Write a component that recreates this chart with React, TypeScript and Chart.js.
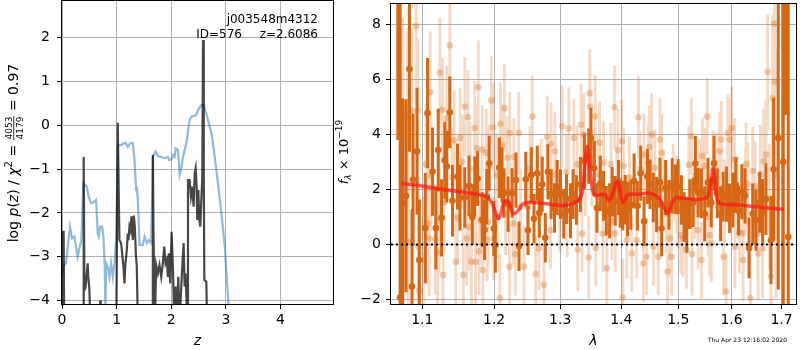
import React, { useEffect, useRef } from "react";
import { Chart, registerables } from "chart.js";

Chart.register(...registerables);

// ---------- left panel: log p(z) ----------
const BLUE_Z = [0, 0.043, 0.073, 0.147, 0.183, 0.226, 0.287, 0.318, 0.355, 0.391, 0.453, 0.489, 0.532, 0.593, 0.624, 0.654, 0.673, 0.697, 0.734, 0.758, 0.783, 0.795, 0.807, 0.838, 0.869, 0.899, 0.93, 0.96, 0.991, 1.021, 1.083, 1.125, 1.162, 1.205, 1.254, 1.297, 1.327, 1.358, 1.37, 1.388, 1.419, 1.48, 1.511, 1.554, 1.59, 1.633, 1.664, 1.712, 1.755, 1.817, 1.878, 1.939, 1.96, 2.0, 2.031, 2.061, 2.08, 2.122, 2.153, 2.183, 2.214, 2.275, 2.336, 2.367, 2.428, 2.457, 2.489, 2.55, 2.593, 2.642, 2.703, 2.735, 2.796, 2.857, 2.918, 2.98, 3.034, 3.046, 3.1];
const BLUE_LOGP = [-3.4, -3.19, -3.15, -2.31, -2.58, -2.54, -3.0, -2.81, -2.62, -1.32, -1.4, -1.63, -1.78, -1.74, -1.7, -2.47, -2.54, -2.31, -2.31, -2.54, -3.23, -4.3, -3.15, -3.23, -3.46, -3.15, -3.46, -3.15, -2.6, -0.45, -0.45, -0.41, -0.4, -0.49, -0.4, -0.41, -0.79, -1.48, -1.4, -1.7, -2.73, -2.73, -2.54, -2.69, -2.62, -2.69, -0.72, -0.6, -0.7, -0.72, -0.75, -0.72, -0.79, -0.78, -0.68, -0.72, -0.53, -0.56, -1.13, -0.98, -0.72, -0.41, 0.12, 0.2, 0.22, 0.24, 0.35, 0.46, 0.46, 0.27, -0.03, -0.18, -0.72, -1.35, -2.01, -2.77, -3.84, -4.08, -4.8];

const DARK_Z = [0, 0.005, 0.03, 0.04, 0.39, 0.397, 0.41, 0.43, 0.47, 0.48, 0.5, 0.52, 0.69, 0.7, 0.71, 0.995, 1.02, 1.051, 1.082, 1.1, 1.125, 1.143, 1.161, 1.186, 1.204, 1.217, 1.235, 1.253, 1.272, 1.296, 1.314, 1.333, 1.351, 1.369, 1.388, 1.655, 1.663, 1.675, 1.7, 1.724, 1.755, 1.785, 1.816, 1.846, 1.871, 1.896, 1.92, 1.938, 1.957, 1.981, 2.006, 2.03, 2.054, 2.079, 2.103, 2.128, 2.152, 2.183, 2.201, 2.226, 2.244, 2.262, 2.293, 2.306, 2.336, 2.36, 2.385, 2.409, 2.428, 2.446, 2.464, 2.476, 2.495, 2.513, 2.532, 2.55, 2.568, 2.581, 2.595, 2.605, 2.642, 2.654];
const DARK_LOGP = [-4.5, -2.43, -2.43, -4.5, -4.5, -0.72, -3.76, -3.72, -3.15, -3.45, -3.72, -4.5, -4.5, -4.0, -4.5, -4.5, 0.06, -2.62, -2.69, -2.92, -3.23, -3.61, -3.15, -2.85, -2.47, -2.62, -2.31, -2.39, -2.08, -2.62, -2.06, -2.31, -2.92, -3.23, -4.5, -4.5, -0.68, -2.5, -4.5, -3.19, -3.38, -3.19, -3.46, -3.15, -2.77, -3.15, -3.07, -3.46, -2.92, -3.61, -2.43, -3.23, -4.5, -3.68, -4.5, -3.46, -4.5, -3.68, -3.23, -2.69, -3.68, -3.38, -4.5, -1.25, -1.25, -1.63, -1.4, -1.86, -1.1, -0.98, -1.4, -2.16, -1.48, -2.16, -2.31, -1.7, -1.2, 1.95, -1.0, -3.53, -3.57, -4.5];

const Z_TICKS = [0, 1, 2, 3, 4];
const LOGP_TICKS = [-4, -3, -2, -1, 0, 1, 2];

// ---------- right panel: spectrum ----------
const DARK_LAM = [1.0678, 1.0708, 1.0742, 1.0785, 1.0829, 1.0863, 1.0877, 1.0929, 1.096, 1.1039, 1.107, 1.1137, 1.1182, 1.1214, 1.1259, 1.1304, 1.1331, 1.1372, 1.1409, 1.1478, 1.1514, 1.158, 1.164, 1.1687, 1.1722, 1.1762, 1.1827, 1.1862, 1.1893, 1.1928, 1.1995, 1.2017, 1.2075, 1.2115, 1.2142, 1.2205, 1.2263, 1.2322, 1.2367, 1.2469, 1.2503, 1.2553, 1.2594, 1.2644, 1.2675, 1.272, 1.2767, 1.2808, 1.2859, 1.2911, 1.2952, 1.3005, 1.3057, 1.31, 1.3163, 1.3205, 1.3258, 1.3323, 1.3387, 1.3457, 1.3494, 1.3549, 1.3592, 1.3648, 1.3702, 1.3747, 1.3802, 1.3846, 1.3896, 1.3952, 1.3981, 1.4025, 1.4066, 1.4105, 1.416, 1.4218, 1.4275, 1.4332, 1.4391, 1.4449, 1.4495, 1.4553, 1.4611, 1.4671, 1.47, 1.4771, 1.4831, 1.489, 1.4949, 1.4998, 1.5058, 1.5107, 1.5156, 1.5211, 1.5271, 1.5314, 1.5364, 1.5425, 1.5488, 1.555, 1.5612, 1.5663, 1.5726, 1.5789, 1.5839, 1.5904, 1.5962, 1.6026, 1.6084, 1.6136, 1.6201, 1.6265, 1.6343, 1.6416, 1.6481, 1.6555, 1.6614, 1.6681, 1.6782, 1.6837, 1.6932, 1.7035, 1.7087, 1.7138];
const DARK_FLUX = [10.0, -1.92, 1.5, 1.77, 6.37, -1.52, 2.35, 3.39, -0.56, 0.6, 4.77, 2.65, 0.6, 3.43, 0.97, 3.06, 2.83, 4.8, 1.59, 2.47, 1.71, 1.71, 2.13, 1.0, 2.1, 2.4, 0.9, 0.54, 1.74, 2.95, 0.58, -0.02, 2.79, 2.52, 1.87, 1.47, 1.87, 2.34, -0.06, 2.37, 0.52, 2.53, 0.94, 2.59, 1.15, 2.19, 0.25, 2.64, 1.83, 1.33, 2.07, 1.83, 1.12, 1.65, 1.23, 1.83, 1.62, 2.18, 3.03, 3.21, 3.87, 2.77, 1.33, 2.22, 1.77, 1.23, 1.23, 1.92, 1.59, 2.07, 1.51, 1.41, 1.63, 1.29, 1.44, 2.31, 1.41, 2.59, 0.85, 2.47, 2.19, 1.71, 1.45, 2.25, 0.58, 2.07, 1.44, 2.13, 2.01, 2.1, 1.62, 1.0, 0.7, 1.47, 1.53, 2.94, 1.89, 1.86, 1.12, 2.25, 1.53, 2.95, 1.86, 1.12, 1.74, 1.83, 1.32, 1.62, 2.16, 1.23, 1.92, 1.77, -0.12, 1.12, 0.88, 1.53, 1.18, 1.65, 0.16, 2.73, 3.87, 3.0, 12.0, 0.28];
const DARK_ERR = [6.2, 11, 3.8, 3.5, 3.0, 2.8, 2.4, 2.3, 2.2, 2.0, 2.0, 1.6, 1.5, 1.5, 1.4, 1.4, 1.3, 1.3, 1.3, 1.2, 1.2, 1.1, 1.1, 1.0, 1.1, 1.0, 1.0, 1.1, 1.0, 1.0, 1.0, 1.0, 1.1, 1.0, 0.9, 1.0, 0.9, 1.0, 0.9, 1.0, 0.9, 1.0, 0.9, 1.0, 0.9, 1.0, 0.9, 1.0, 0.9, 0.9, 1.0, 0.9, 0.9, 0.9, 1.0, 0.9, 0.9, 1.0, 1.0, 1.0, 1.1, 1.0, 0.9, 1.0, 0.9, 0.9, 1.0, 0.9, 0.9, 1.0, 0.9, 0.9, 0.9, 1.0, 0.9, 1.0, 0.9, 1.0, 0.9, 1.0, 0.9, 0.9, 1.0, 0.9, 1.0, 1.0, 0.9, 1.0, 0.9, 1.0, 0.9, 0.9, 1.0, 0.9, 0.9, 1.0, 0.9, 0.9, 1.0, 0.9, 0.9, 1.0, 0.9, 1.0, 0.9, 1.0, 0.9, 1.0, 1.0, 0.9, 1.0, 1.0, 1.1, 1.1, 1.1, 1.1, 1.2, 1.3, 1.6, 2.6, 5.5, 9.0, 7.3, 10.0];

const LIGHT_LAM = [1.0742, 1.0807, 1.0816, 1.0859, 1.0916, 1.0938, 1.0945, 1.096, 1.1017, 1.1048, 1.107, 1.1093, 1.1106, 1.1115, 1.1173, 1.1205, 1.1227, 1.1236, 1.1272, 1.128, 1.1295, 1.1331, 1.1372, 1.1409, 1.1432, 1.1455, 1.1478, 1.1514, 1.1547, 1.1561, 1.158, 1.1607, 1.1626, 1.164, 1.1654, 1.1673, 1.172, 1.1734, 1.1758, 1.1772, 1.1782, 1.1805, 1.1829, 1.1838, 1.1886, 1.19, 1.191, 1.1924, 1.1958, 1.1986, 1.1996, 1.2034, 1.2044, 1.2083, 1.2092, 1.2117, 1.2151, 1.2166, 1.219, 1.2224, 1.2229, 1.2279, 1.2289, 1.2313, 1.2363, 1.2388, 1.2443, 1.2493, 1.2533, 1.2568, 1.2619, 1.267, 1.2705, 1.2746, 1.2798, 1.2849, 1.2859, 1.2916, 1.2927, 1.2994, 1.3031, 1.3099, 1.311, 1.3136, 1.3216, 1.3269, 1.3279, 1.3333, 1.3349, 1.3376, 1.3403, 1.3457, 1.3473, 1.348, 1.3511, 1.3565, 1.3572, 1.362, 1.3636, 1.3691, 1.3702, 1.3757, 1.3824, 1.384, 1.3885, 1.3896, 1.3924, 1.3941, 1.4008, 1.4025, 1.4036, 1.4093, 1.4138, 1.4178, 1.4264, 1.4292, 1.4321, 1.4379, 1.439, 1.4436, 1.4466, 1.4483, 1.4524, 1.4553, 1.4582, 1.4641, 1.467, 1.468, 1.47, 1.4729, 1.4789, 1.4806, 1.4848, 1.4878, 1.4908, 1.4968, 1.4998, 1.5046, 1.5089, 1.5149, 1.5192, 1.5241, 1.5253, 1.5302, 1.5314, 1.5364, 1.5395, 1.5426, 1.5444, 1.5488, 1.5537, 1.555, 1.5581, 1.5613, 1.5644, 1.5707, 1.577, 1.5802, 1.5846, 1.5865, 1.5897, 1.5929, 1.5961, 1.6006, 1.6058, 1.6066, 1.6109, 1.6155, 1.622, 1.6228, 1.6272, 1.6285, 1.6318, 1.637, 1.6416, 1.6462, 1.6516, 1.6525, 1.6569, 1.6615, 1.6635, 1.6682, 1.6716, 1.6749, 1.6783, 1.6817, 1.6851, 1.6864, 1.6885];
const LIGHT_FLUX = [4.71, 4.65, 0.12, 4.86, 7.93, 4.86, -0.08, -1.67, -0.56, 2.91, 0.76, 0.22, 5.53, 2.49, 0.18, -0.29, 0.88, 6.24, 4.89, -1.1, 1.53, 4.59, 7.23, 2.43, 3.78, -0.62, 0.97, 3.87, 3.01, -1.1, 5.01, 0.22, 4.63, 0.64, 2.76, -0.62, 4.23, -0.62, 3.49, 5.71, -0.24, 0.88, 3.45, -0.92, 3.33, 0.18, 0.82, 2.85, 5.23, 4.26, 0.22, 2.52, 1.0, -1.94, 4.38, 3.61, 4.95, 1.12, 3.15, -0.8, 4.05, 0.76, 3.19, -0.35, 4.05, 1.35, -0.8, 1.35, 2.79, 4.65, -1.07, -0.14, 2.43, -1.46, 3.9, 0.52, 3.66, 3.39, 2.55, 1.12, 4.29, 2.61, 0.94, 4.21, 3.87, 2.91, -0.18, 4.35, 0.4, 3.99, 2.43, -0.47, 5.49, 5.01, 2.79, 4.65, -0.12, 2.55, 3.69, 0.4, 2.97, -0.86, 2.91, 0.85, 4.98, 0.4, 2.31, 3.42, 3.75, -1.92, 2.85, 0.16, 2.43, -0.32, 0.16, 4.62, 2.73, -0.68, 3.27, -0.44, 2.97, 3.54, 3.99, -0.08, 2.79, -0.44, 3.81, 1.98, 3.33, 2.01, 1.12, -0.98, 0.22, -0.44, 2.25, 1.83, 1.29, 0.34, 0.22, -0.2, 2.89, 3.93, -0.35, 1.59, 2.49, 0.52, 2.43, -0.56, 3.21, 2.85, 4.65, 1.0, 0.34, 0.04, 2.73, 2.67, 3.39, 3.81, -0.44, 1.59, -1.7, 4.05, 3.81, 4.23, 3.09, -0.08, 1.71, 0.46, 0.4, -0.56, 1.95, 2.91, 2.19, -1.94, 2.67, 2.13, 0.4, -0.32, 2.55, -0.14, 3.03, 3.27, 6.27, 1.35, -1.16, 5.31, 8.01, 5.91, 2.55];
const LIGHT_ERR = [3.5, 3.2, 3.0, 3.0, 2.8, 2.6, 2.6, 2.4, 2.3, 2.2, 2.2, 2.1, 2.2, 2.0, 2.0, 2.0, 1.9, 2.0, 1.9, 1.9, 1.8, 1.9, 1.9, 1.8, 1.8, 1.8, 1.7, 1.8, 1.7, 1.7, 1.8, 1.7, 1.7, 1.6, 1.7, 1.6, 1.7, 1.6, 1.6, 1.7, 1.6, 1.6, 1.6, 1.6, 1.6, 1.5, 1.6, 1.5, 1.6, 1.6, 1.5, 1.5, 1.5, 1.6, 1.5, 1.5, 1.6, 1.5, 1.5, 1.5, 1.5, 1.5, 1.4, 1.5, 1.5, 1.4, 1.5, 1.4, 1.5, 1.5, 1.4, 1.5, 1.4, 1.5, 1.5, 1.4, 1.5, 1.4, 1.4, 1.4, 1.5, 1.4, 1.4, 1.5, 1.4, 1.4, 1.5, 1.5, 1.4, 1.5, 1.4, 1.5, 1.6, 1.5, 1.4, 1.5, 1.4, 1.4, 1.5, 1.4, 1.5, 1.4, 1.5, 1.4, 1.5, 1.4, 1.4, 1.5, 1.5, 1.4, 1.4, 1.4, 1.5, 1.4, 1.4, 1.5, 1.4, 1.4, 1.5, 1.4, 1.4, 1.5, 1.5, 1.4, 1.4, 1.4, 1.5, 1.4, 1.4, 1.4, 1.4, 1.4, 1.4, 1.4, 1.4, 1.4, 1.4, 1.4, 1.4, 1.4, 1.4, 1.4, 1.5, 1.4, 1.4, 1.4, 1.4, 1.4, 1.4, 1.4, 1.4, 1.4, 1.5, 1.4, 1.4, 1.4, 1.4, 1.4, 1.4, 1.5, 1.4, 1.4, 1.5, 1.5, 1.5, 1.5, 1.5, 1.5, 1.5, 1.5, 1.5, 1.5, 1.5, 1.6, 1.6, 1.6, 1.7, 1.7, 1.8, 1.8, 1.9, 2.0, 2.1, 2.3, 2.6, 3.0, 3.2, 3.8, 4.5, 5.0, 6.0];

const MODEL_LAM = [1.0725, 1.1008, 1.1322, 1.1599, 1.1786, 1.1905, 1.1977, 1.2025, 1.2064, 1.2098, 1.2132, 1.2171, 1.221, 1.2244, 1.2279, 1.2318, 1.2368, 1.2418, 1.2518, 1.267, 1.2875, 1.3031, 1.3136, 1.3242, 1.3322, 1.3365, 1.3403, 1.3435, 1.3457, 1.3485, 1.3523, 1.3566, 1.3648, 1.3731, 1.3798, 1.3831, 1.3876, 1.3926, 1.3965, 1.3999, 1.4036, 1.4093, 1.4149, 1.4292, 1.4436, 1.4553, 1.4641, 1.47, 1.4759, 1.4806, 1.4848, 1.4908, 1.4968, 1.5119, 1.5302, 1.5488, 1.555, 1.56, 1.5644, 1.5676, 1.5707, 1.5751, 1.5802, 1.6122, 1.6449, 1.6783, 1.7054];
const MODEL_FLUX = [2.22, 2.12, 1.98, 1.89, 1.81, 1.71, 1.47, 1.12, 0.94, 1.12, 1.47, 1.59, 1.56, 1.29, 1.12, 1.15, 1.29, 1.47, 1.53, 1.52, 1.45, 1.41, 1.45, 1.53, 1.71, 2.07, 3.15, 3.57, 3.15, 2.55, 1.95, 1.77, 1.83, 1.8, 1.59, 1.71, 2.01, 2.31, 2.13, 1.71, 1.53, 1.77, 1.83, 1.83, 1.87, 1.83, 1.71, 1.53, 1.29, 1.12, 1.29, 1.59, 1.71, 1.68, 1.64, 1.67, 1.77, 2.19, 2.73, 2.43, 1.83, 1.53, 1.47, 1.44, 1.38, 1.32, 1.28];

const LAM_TICKS = [1.1, 1.2, 1.3, 1.4, 1.5, 1.6, 1.7];
const FLUX_TICKS = [-2, 0, 2, 4, 6, 8];

const FAMILY = "'DejaVu Sans', sans-serif";
const ORANGE = "rgb(214,103,20)";
const ORANGE_LIGHT_BAR = "rgba(214,103,20,0.25)";
const ORANGE_LIGHT_PT = "rgba(214,103,20,0.32)";

const fmt = (v: number) => String(v).replace("-", "\u2212");

type Run = { text?: string; font?: string; dy?: number; num?: string; den?: string; fracFont?: string };

function drawRuns(ctx: CanvasRenderingContext2D, runs: Run[], cx: number, cy: number, rotate: boolean) {
  ctx.save();
  ctx.translate(cx, cy);
  if (rotate) ctx.rotate(-Math.PI / 2);
  ctx.fillStyle = "#000";
  ctx.textBaseline = "alphabetic";
  ctx.textAlign = "left";
  const widths = runs.map((r) => {
    if (r.num !== undefined) {
      ctx.font = r.fracFont!;
      return Math.max(ctx.measureText(r.num).width, ctx.measureText(r.den!).width) + 2;
    }
    ctx.font = r.font!;
    return ctx.measureText(r.text!).width;
  });
  const total = widths.reduce((a, b) => a + b, 0);
  let x = -total / 2;
  runs.forEach((r, i) => {
    const w = widths[i];
    if (r.num !== undefined) {
      ctx.font = r.fracFont!;
      const nw = ctx.measureText(r.num).width;
      const dw = ctx.measureText(r.den!).width;
      ctx.fillText(r.num, x + (w - nw) / 2, -6);
      ctx.fillText(r.den!, x + (w - dw) / 2, 5);
      ctx.fillRect(x + 0.5, -4.6, w - 1, 0.8);
    } else {
      ctx.font = r.font!;
      ctx.fillText(r.text!, x, r.dy || 0);
    }
    x += w;
  });
  ctx.restore();
}

function framePlugin(id: string, extra: (ctx: CanvasRenderingContext2D, chart: any) => void) {
  return {
    id,
    afterDraw(chart: any) {
      const { ctx, chartArea: a } = chart;
      ctx.save();
      ctx.strokeStyle = "#000";
      ctx.lineWidth = 1;
      ctx.strokeRect(Math.round(a.left) - 0.5, Math.round(a.top) - 0.5, Math.round(a.right - a.left) + 1, Math.round(a.bottom - a.top) + 1);
      ctx.restore();
      extra(ctx, chart);
    },
  };
}

function axisCommon(ticksArr: number[], padding: number, fmtFn: (v: number) => string) {
  return {
    afterBuildTicks: (s: any) => {
      s.ticks = ticksArr.map((v) => ({ value: v }));
    },
    ticks: {
      autoSkip: false,
      maxRotation: 0,
      padding,
      color: "#000",
      font: { family: FAMILY, size: 14 },
      callback: (v: any) => fmtFn(Number(v)),
    },
    grid: {
      color: "#b0b0b0",
      lineWidth: 1,
      drawTicks: true,
      tickLength: 5,
      tickColor: "#000",
      tickWidth: 1,
    },
    border: { display: false },
  };
}

export default function App() {
  const leftRef = useRef<HTMLCanvasElement>(null);
  const rightRef = useRef<HTMLCanvasElement>(null);

  useEffect(() => {
    const blue = BLUE_Z.map((z, i) => ({ x: z, y: BLUE_LOGP[i] }));
    const dark = DARK_Z.map((z, i) => ({ x: z, y: DARK_LOGP[i] }));

    const leftExtra = (ctx: CanvasRenderingContext2D, chart: any) => {
      const a = chart.chartArea;
      ctx.save();
      ctx.fillStyle = "#000";
      ctx.font = `12px ${FAMILY}`;
      ctx.textAlign = "right";
      ctx.textBaseline = "alphabetic";
      ctx.fillText("j003548m4312", 318, 23);
      ctx.fillText("z=2.6086", 318, 38);
      ctx.fillText("ID=576", 242, 38);
      ctx.font = `italic 14px ${FAMILY}`;
      ctx.textAlign = "center";
      ctx.fillText("z", (a.left + a.right) / 2, 345);
      ctx.restore();
      const f = `14px ${FAMILY}`;
      const fi = `italic 14px ${FAMILY}`;
      drawRuns(
        ctx,
        [
          { text: "log ", font: f },
          { text: "p", font: fi },
          { text: "(", font: f },
          { text: "z", font: fi },
          { text: ") / ", font: f },
          { text: "\u03c7", font: fi },
          { text: "2", font: `10px ${FAMILY}`, dy: -6 },
          { text: " = ", font: f },
          { num: "4053", den: "4179", fracFont: `9px ${FAMILY}` },
          { text: " = 0.97", font: f },
        ],
        18,
        153,
        true
      );
    };

    const left = new Chart(leftRef.current!, {
      type: "line",
      data: {
        datasets: [
          {
            data: dark,
            borderColor: "rgba(0,0,0,0.72)",
            borderWidth: 2.2,
            pointRadius: 0,
            tension: 0,
          },
          {
            data: blue,
            borderColor: "rgba(31,119,180,0.5)",
            borderWidth: 2.2,
            pointRadius: 0,
            tension: 0,
          },
        ],
      },
      options: {
        responsive: false,
        animation: false,
        events: [],
        layout: { padding: { left: 0, right: 7, top: 1, bottom: 0 } },
        plugins: { legend: { display: false }, tooltip: { enabled: false } },
        scales: {
          x: {
            type: "linear",
            min: 0,
            max: 4.96,
            ...axisCommon(Z_TICKS, 3, fmt),
            afterFit: (s: any) => {
              s.height = 46;
              s.paddingLeft = 0;
              s.paddingRight = 0;
            },
          },
          y: {
            type: "linear",
            min: -4.08,
            max: 2.84,
            ...axisCommon(LOGP_TICKS, 7, fmt),
            afterFit: (s: any) => {
              s.width = 62;
              s.paddingTop = 0;
              s.paddingBottom = 0;
            },
          },
        },
      },
      plugins: [framePlugin("frameL", leftExtra)],
    } as any);

    // spectrum
    const darkBars: any[] = [];
    DARK_LAM.forEach((l, i) => {
      darkBars.push({ x: l, y: DARK_FLUX[i] - DARK_ERR[i] });
      darkBars.push({ x: l, y: DARK_FLUX[i] + DARK_ERR[i] });
      darkBars.push({ x: l, y: null });
    });
    const lightBars: any[] = [];
    LIGHT_LAM.forEach((l, i) => {
      lightBars.push({ x: l, y: LIGHT_FLUX[i] - LIGHT_ERR[i] });
      lightBars.push({ x: l, y: LIGHT_FLUX[i] + LIGHT_ERR[i] });
      lightBars.push({ x: l, y: null });
    });
    const darkPts = DARK_LAM.map((l, i) => ({ x: l, y: DARK_FLUX[i] }));
    const lightPts = LIGHT_LAM.map((l, i) => ({ x: l, y: LIGHT_FLUX[i] }));
    const model = MODEL_LAM.map((l, i) => ({ x: l, y: MODEL_FLUX[i] }));
    const zero = [
      { x: 1.059, y: 0 },
      { x: 1.73, y: 0 },
    ];

    const rightExtra = (ctx: CanvasRenderingContext2D, chart: any) => {
      const a = chart.chartArea;
      ctx.save();
      ctx.fillStyle = "#000";
      ctx.font = `italic 14px ${FAMILY}`;
      ctx.textAlign = "center";
      ctx.textBaseline = "alphabetic";
      ctx.fillText("\u03bb", (a.left + a.right) / 2, 345);
      ctx.font = `6px ${FAMILY}`;
      ctx.textAlign = "right";
      ctx.fillText("Thu Apr 23 12:16:02 2020", 787 - 330, 342);
      ctx.restore();
      drawRuns(
        ctx,
        [
          { text: "f", font: `italic 13px ${FAMILY}` },
          { text: "\u03bb", font: `italic 9px ${FAMILY}`, dy: 3 },
          { text: " \u00d7 10", font: `13px ${FAMILY}` },
          { text: "\u221219", font: `9px ${FAMILY}`, dy: -6 },
        ],
        348 - 330,
        152,
        true
      );
    };

    const right = new Chart(rightRef.current!, {
      type: "line",
      data: {
        datasets: [
          {
            data: zero,
            borderColor: "#000",
            borderWidth: 2,
            borderDash: [2, 3],
            pointRadius: 0,
          },
          {
            data: model,
            borderColor: "rgba(255,20,20,0.7)",
            borderWidth: 3.5,
            pointRadius: 0,
            tension: 0.3,
            cubicInterpolationMode: "monotone",
          },
          {
            data: darkPts,
            showLine: false,
            pointRadius: 3.3,
            pointBorderWidth: 0,
            pointBackgroundColor: ORANGE,
            borderColor: ORANGE,
          },
          {
            data: darkBars,
            borderColor: ORANGE,
            borderWidth: 3,
            pointRadius: 0,
            spanGaps: false,
          },
          {
            data: lightPts,
            showLine: false,
            pointRadius: 3.3,
            pointBorderWidth: 0,
            pointBackgroundColor: ORANGE_LIGHT_PT,
            borderColor: ORANGE_LIGHT_PT,
          },
          {
            data: lightBars,
            borderColor: ORANGE_LIGHT_BAR,
            borderWidth: 2.8,
            pointRadius: 0,
            spanGaps: false,
          },
        ],
      },
      options: {
        responsive: false,
        animation: false,
        events: [],
        layout: { padding: { left: 0, right: 1, top: 1, bottom: 0 } },
        plugins: { legend: { display: false }, tooltip: { enabled: false } },
        scales: {
          x: {
            type: "logarithmic",
            min: 1.059,
            max: 1.73,
            ...axisCommon(LAM_TICKS, 3, (v) => v.toFixed(1)),
            afterFit: (s: any) => {
              s.height = 46;
              s.paddingLeft = 0;
              s.paddingRight = 0;
            },
          },
          y: {
            type: "linear",
            min: -2.155,
            max: 8.73,
            ...axisCommon(FLUX_TICKS, 5, fmt),
            afterFit: (s: any) => {
              s.width = 61;
              s.paddingTop = 0;
              s.paddingBottom = 0;
            },
          },
        },
      },
      plugins: [framePlugin("frameR", rightExtra)],
    } as any);

    return () => {
      left.destroy();
      right.destroy();
    };
  }, []);

  return (
    <div style={{ position: "absolute", left: 0, top: 0, width: 800, height: 350, background: "#fff" }}>
      <canvas ref={leftRef} width={340} height={350} style={{ position: "absolute", left: 0, top: 0, width: 340, height: 350 }} />
      <canvas ref={rightRef} width={470} height={350} style={{ position: "absolute", left: 330, top: 0, width: 470, height: 350 }} />
    </div>
  );
}
